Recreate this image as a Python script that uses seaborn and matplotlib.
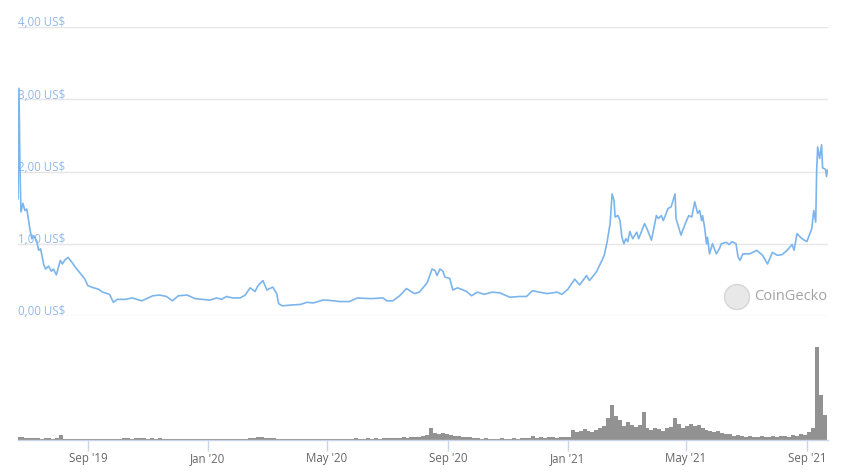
import numpy as np
import pandas as pd
import matplotlib
matplotlib.use("Agg")
import matplotlib.pyplot as plt
import matplotlib.dates as mdates
from matplotlib.patches import Ellipse
import seaborn as sns

# Price (US$), days counted from 2019-06-22
price_days = [0, 1, 2, 3, 5, 7, 9, 12, 14, 16,
              19, 21, 23, 26, 28, 31, 34, 36, 39, 43,
              45, 48, 51, 55, 58, 61, 65, 68, 71, 77,
              82, 86, 93, 97, 101, 109, 116, 126, 134, 137,
              144, 151, 157, 163, 172, 180, 195, 202, 207, 212,
              218, 226, 231, 236, 241, 244, 249, 253, 259, 263,
              265, 269, 276, 287, 294, 300, 310, 314, 327, 337,
              345, 358, 371, 375, 381, 388, 395, 403, 408, 416,
              421, 424, 426, 429, 432, 434, 439, 442, 447, 456,
              461, 467, 474, 482, 490, 500, 510, 517, 523, 530,
              538, 548, 553, 559, 566, 571, 578, 581, 588, 593,
              596, 599, 602, 604, 606, 607, 610, 612, 614, 616,
              618, 620, 622, 625, 629, 631, 637, 640, 644, 649,
              651, 654, 656, 661, 664, 666, 668, 669, 674, 679,
              682, 685, 688, 691, 693, 695, 696, 698, 700, 701,
              703, 706, 710, 713, 715, 720, 723, 726, 730, 732,
              734, 737, 744, 751, 757, 762, 767, 772, 777, 782,
              787, 789, 792, 797, 802, 807, 809, 811, 812, 813,
              815, 817, 818, 821, 822, 823]
price = [1.62, 3.15, 2.04, 1.44, 1.56, 1.46, 1.48, 1.21, 1.07, 1.11,
         1.04, 0.91, 0.93, 0.72, 0.65, 0.69, 0.62, 0.65, 0.57, 0.77,
         0.72, 0.78, 0.81, 0.74, 0.68, 0.63, 0.56, 0.51, 0.42, 0.39,
         0.37, 0.33, 0.30, 0.19, 0.23, 0.23, 0.25, 0.21, 0.26, 0.28,
         0.29, 0.27, 0.21, 0.28, 0.29, 0.24, 0.22, 0.25, 0.23, 0.27,
         0.25, 0.25, 0.29, 0.39, 0.34, 0.42, 0.49, 0.36, 0.40, 0.31,
         0.17, 0.14, 0.15, 0.16, 0.19, 0.18, 0.22, 0.22, 0.20, 0.20,
         0.25, 0.24, 0.25, 0.21, 0.21, 0.28, 0.38, 0.31, 0.33, 0.46,
         0.65, 0.63, 0.56, 0.65, 0.62, 0.54, 0.52, 0.36, 0.39, 0.34,
         0.28, 0.33, 0.30, 0.33, 0.32, 0.26, 0.27, 0.27, 0.35, 0.33,
         0.31, 0.33, 0.30, 0.37, 0.51, 0.43, 0.56, 0.49, 0.61, 0.75,
         0.84, 1.03, 1.28, 1.69, 1.60, 1.37, 1.39, 1.32, 1.09, 1.00,
         1.07, 1.03, 1.17, 1.07, 1.16, 1.07, 1.28, 1.19, 1.05, 1.39,
         1.35, 1.39, 1.32, 1.49, 1.51, 1.60, 1.69, 1.35, 1.12, 1.30,
         1.39, 1.37, 1.58, 1.42, 1.46, 1.32, 1.39, 1.23, 1.00, 1.09,
         0.86, 1.00, 0.86, 0.93, 1.00, 1.02, 0.99, 1.03, 1.00, 0.82,
         0.77, 0.86, 0.86, 0.91, 0.84, 0.72, 0.88, 0.84, 0.85, 0.91,
         0.99, 0.91, 1.14, 1.07, 1.03, 1.21, 1.46, 1.30, 2.02, 2.34,
         2.18, 2.37, 2.05, 2.03, 1.93, 2.02]

# Trading volume (relative units), one bar every 4 days from 2019-06-22
volume = [3, 3, 2.5, 2, 2, 2, 1.5, 2, 2, 1.5, 2,
          5,
          1.5, 1.5, 1, 1.5, 1, 1.5, 1.5, 1, 1, 1.5, 1.5, 1, 1.5, 1.5, 1.5, 2, 2, 1.5, 2, 2,
          2, 1.5, 2, 1.5, 2, 1.5, 1.5, 1, 1,
          1, 1, 1, 1.5, 1, 1, 1, 1.5, 1, 1, 1.5, 1, 1.5, 1.5, 1, 1.5, 1.5, 1.5, 2, 2,
          3, 3, 2.5, 2,
          2, 1.5, 1.5, 1.5, 1, 1.5, 1, 1.5, 1, 1.5, 1.5,
          1.5, 1, 1.5, 1.5, 1, 1.5, 1.5, 1, 1.5, 1.5, 2, 1.5, 1.5, 2, 1.5, 2, 1.5, 2, 2,
          2, 2.5, 2, 3, 2.5, 3, 3,
          3, 4, 5,
          12,
          7, 6, 7, 6, 5,
          4, 4, 3, 3, 3,
          2, 2, 1.5, 2, 1.5, 1.5, 1.5, 2, 1.5, 1.5, 2, 1.5, 2, 2, 2,
          4,
          2.5, 3, 2.5, 3, 3, 2.5, 3, 3.5, 3,
          10, 8, 9, 11, 9,
          8, 10, 12, 14,
          22, 35, 24, 20, 14, 18, 15, 13, 15,
          28, 12, 10, 12, 11, 9, 12,
          13, 22, 16, 12, 14,
          16, 14, 15, 12, 10,
          9, 8, 9, 7, 6, 6,
          4, 5, 4, 3, 4, 3, 3, 4, 3, 3, 4, 3, 4, 4, 3,
          5, 4, 6,
          5, 8, 12, 93, 45, 25]

price_ticks = [0, 1, 2, 3, 4]
price_labels = ["0,00 US$", "1,00 US$", "2,00 US$", "3,00 US$", "4,00 US$"]

start = pd.Timestamp("2019-06-22")
price_dates = start + pd.to_timedelta(price_days, unit="D")
vol_dates = start + pd.to_timedelta([4 * i for i in range(len(volume))], unit="D")
df = pd.DataFrame({"date": price_dates, "price": price})

sns.set_style("white")
plt.rcParams["font.family"] = ["Open Sans", "DejaVu Sans"]

fig = plt.figure(figsize=(8.47, 4.77), dpi=100)
x0, x1 = 18 / 847, 828 / 847
ax = fig.add_axes([x0, 1 - 317 / 477, x1 - x0, (317 - 28) / 477])
axv = fig.add_axes([x0, 1 - 441 / 477, x1 - x0, (441 - 335) / 477])

xmin = start
xmax = start + pd.Timedelta(days=823.5)

# price panel
for t, lab in zip(price_ticks, price_labels):
    ax.axhline(t, color="#e6e6e6", lw=1, zorder=0)
    ax.text(0.0, t + 0.07, lab, transform=ax.get_yaxis_transform(), ha="left", va="center",
            fontsize=8.3, color="#8fb9ec", zorder=1)
sns.lineplot(data=df, x="date", y="price", ax=ax, color="#7cb5ec", lw=1.2, zorder=3)
ax.set_xlim(xmin, xmax)
ax.set_ylim(0, 4)
ax.set_xticks([])
ax.set_yticks([])
ax.set_xlabel("")
ax.set_ylabel("")
for s in ax.spines.values():
    s.set_visible(False)
ax.patch.set_alpha(0)

# CoinGecko watermark
fig.patches.append(Ellipse((737 / 847, 1 - 298 / 477), 25 / 847, 25 / 477, transform=fig.transFigure,
                           facecolor="#e8e8e8", edgecolor="#d6d6d6", lw=1, zorder=2))
fig.text(754 / 847, 1 - 297 / 477, "CoinGecko", fontsize=10.5, color="#a3a3a3",
         ha="left", va="center")

# volume panel
axv.bar(vol_dates, volume, width=4.0, color="#929292", align="center", lw=0, zorder=2)
axv.set_xlim(xmin, xmax)
axv.set_ylim(0, 106)
axv.set_yticks([])
for k in ["top", "left", "right"]:
    axv.spines[k].set_visible(False)
axv.spines["bottom"].set_color("#ccd6eb")
axv.spines["bottom"].set_linewidth(1)
axv.xaxis.set_major_locator(mdates.MonthLocator(bymonth=[1, 5, 9]))
axv.xaxis.set_major_formatter(mdates.DateFormatter("%b '%y"))
axv.tick_params(axis="x", length=8, width=1, color="#ccd6eb", labelsize=8.3,
                labelcolor="#666666", pad=0, bottom=True)
axv.set_xlabel("")
axv.patch.set_alpha(0)

fig.savefig("out.png", dpi=100, facecolor="white")
